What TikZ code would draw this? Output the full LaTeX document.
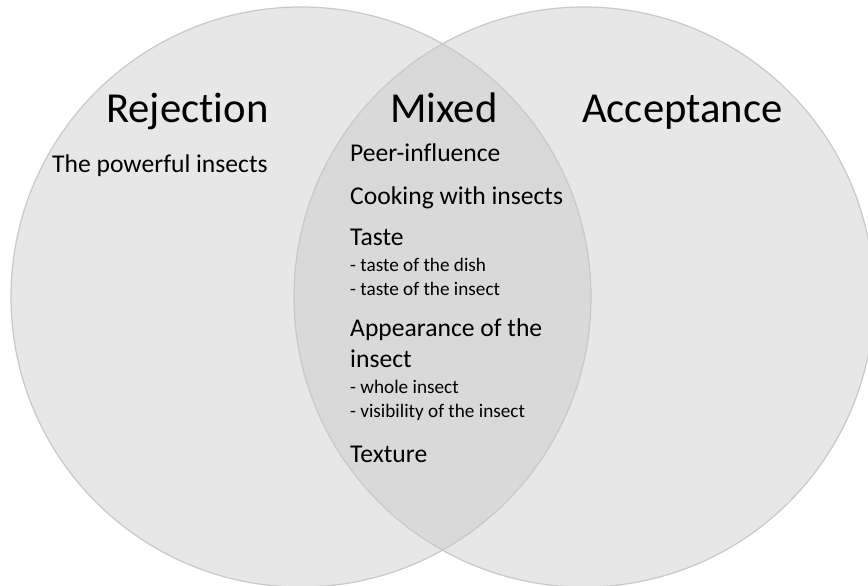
\documentclass[tikz,border=0pt]{standalone}
\usepackage{fontspec}
\setmainfont{Carlito}[Ligatures=NoCommon]
\definecolor{circfill}{HTML}{E7E7E7}
\definecolor{lensfill}{HTML}{D9D9D9}
\definecolor{circline}{HTML}{C8C8C8}
\begin{document}
\begin{tikzpicture}[x=1pt,y=-1pt,
  title/.style={anchor=base west,inner sep=0pt,font=\fontsize{42.7}{48}\selectfont},
  item/.style={anchor=base west,inner sep=0pt,font=\fontsize{25.6}{30}\selectfont},
  sub/.style={anchor=base west,inner sep=0pt,font=\fontsize{19.2}{23}\selectfont}]
\useasboundingbox (0,0) rectangle (868,586);
\clip (0,0) rectangle (868,586);
\coordinate (cl) at (301,297);
\coordinate (cr) at (584,297);
\fill[circfill] (cl) circle[radius=290];
\fill[circfill] (cr) circle[radius=290];
\begin{scope}
  \clip (cl) circle[radius=290];
  \fill[lensfill] (cr) circle[radius=290];
\end{scope}
\draw[circline,line width=1.2pt] (cl) circle[radius=290];
\draw[circline,line width=1.2pt] (cr) circle[radius=290];
\node[title] (rej) at (106,122) {Rejection};
\node[title] (mix) at (390,122) {Mixed};
\node[title] (acc) at (582,122) {Acceptance};
\node[item] (pow) at (52,172) {The powerful insects};
\node[item] (peer) at (350,161) {Peer-influence};
\node[item] (cook) at (350,204) {Cooking with insects};
\node[item] (taste) at (350,245) {Taste};
\node[sub] (t1) at (350,271) {- taste of the dish};
\node[sub] (t2) at (350,295) {- taste of the insect};
\node[item] (app) at (350,336) {Appearance of the};
\node[item] (app2) at (350,367) {insect};
\node[sub] (w1) at (350,393) {- whole insect};
\node[sub] (w2) at (350,417) {- visibility of the insect};
\node[item] (tex) at (350,462) {Texture};
\end{tikzpicture}
\end{document}
